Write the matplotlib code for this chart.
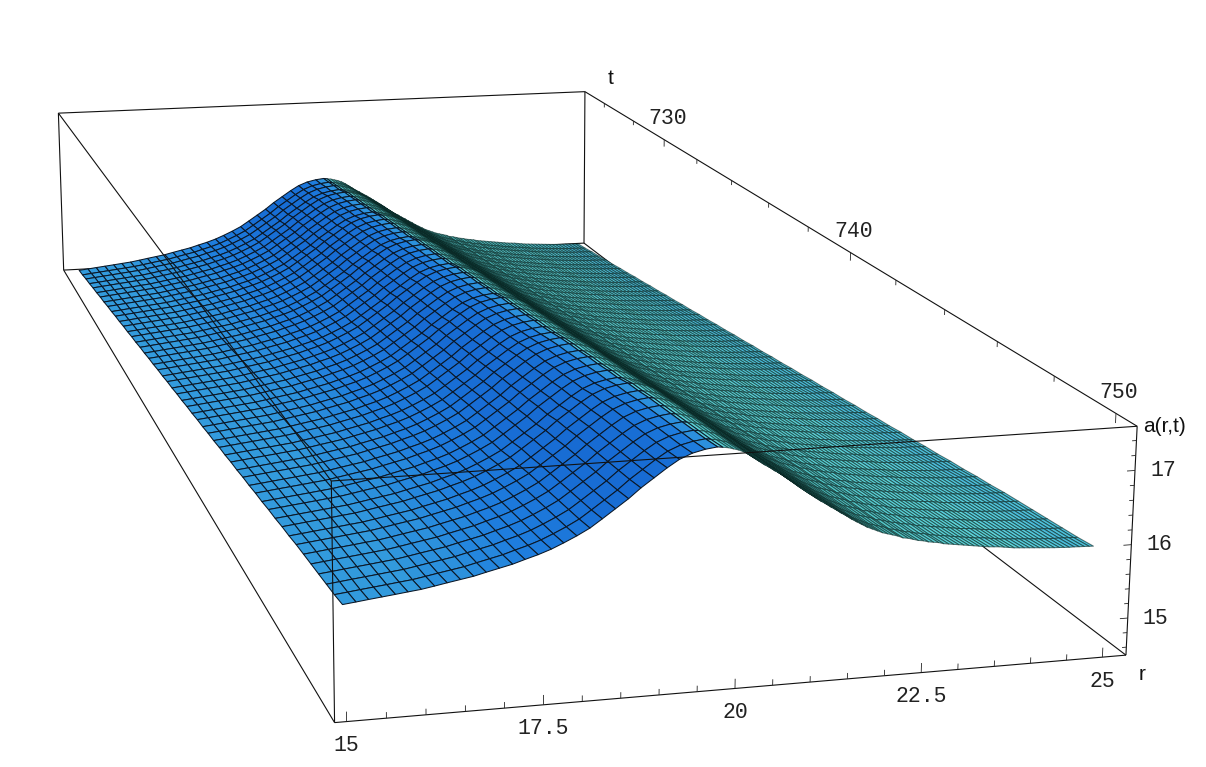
# a(r,t) surface, box view taken from the box corners seen in the picture
import numpy as np
import matplotlib
matplotlib.use('Agg')
import matplotlib.pyplot as plt
from mpl_toolkits.mplot3d.art3d import Line3DCollection

W, H = 1206, 767

# mesh is much finer past the crest
r_values = [15.10, 15.27, 15.43, 15.60, 15.77, 15.93, 16.10, 16.27, 16.43, 16.60,
            16.77, 16.93, 17.10, 17.27, 17.43, 17.60, 17.77, 17.93, 18.10, 18.27,
            18.43, 18.60, 18.77, 18.93, 19.10, 19.27, 19.43, 19.60, 19.77, 19.93,
            20.00, 20.07, 20.14, 20.21, 20.28, 20.35, 20.42, 20.49, 20.56, 20.63,
            20.70, 20.77, 20.84, 20.91, 20.98, 21.05, 21.12, 21.19, 21.26, 21.33,
            21.40, 21.47, 21.54, 21.61, 21.68, 21.75, 21.82, 21.89, 21.96, 22.03,
            22.10, 22.17, 22.24, 22.31, 22.38, 22.45, 22.52, 22.59, 22.66, 22.73,
            22.80, 22.87, 22.94, 23.01, 23.08, 23.15, 23.22, 23.29, 23.36, 23.43,
            23.50, 23.57, 23.64, 23.71, 23.78, 23.85, 23.92, 23.99, 24.06, 24.13,
            24.20, 24.27, 24.34, 24.41, 24.48, 24.55, 24.62, 24.69, 24.76, 24.83,
            24.90, 24.97, 25.04, 25.10]
# height of the ridge above the r=15 edge, read along the front edge
ridge = [0.01, 0.03, 0.05, 0.07, 0.09, 0.11, 0.13, 0.16, 0.19, 0.22,
         0.25, 0.29, 0.33, 0.37, 0.42, 0.47, 0.53, 0.60, 0.68, 0.77,
         0.88, 1.00, 1.12, 1.25, 1.37, 1.49, 1.59, 1.66, 1.70, 1.72,
         1.71, 1.70, 1.68, 1.66, 1.63, 1.59, 1.54, 1.49, 1.44, 1.40,
         1.35, 1.31, 1.26, 1.21, 1.16, 1.11, 1.06, 1.00, 0.95, 0.90,
         0.86, 0.81, 0.77, 0.72, 0.68, 0.63, 0.59, 0.55, 0.51, 0.48,
         0.45, 0.42, 0.40, 0.38, 0.36, 0.33, 0.32, 0.30, 0.28, 0.27,
         0.25, 0.24, 0.23, 0.21, 0.20, 0.19, 0.18, 0.17, 0.16, 0.15,
         0.14, 0.13, 0.12, 0.115, 0.11, 0.10, 0.09, 0.08, 0.075, 0.07,
         0.065, 0.06, 0.055, 0.05, 0.045, 0.04, 0.037, 0.033, 0.03, 0.03,
         0.027, 0.025, 0.022, 0.02]
t_values = [725.0, 725.5, 726.0, 726.5, 727.0, 727.5, 728.0, 728.5, 729.0, 729.5,
            730.0, 730.5, 731.0, 731.5, 732.0, 732.5, 733.0, 733.5, 734.0, 734.5,
            735.0, 735.5, 736.0, 736.5, 737.0, 737.5, 738.0, 738.5, 739.0, 739.5,
            740.0, 740.5, 741.0, 741.5, 742.0, 742.5, 743.0, 743.5, 744.0, 744.5,
            745.0, 745.5, 746.0, 746.5, 747.0, 747.5, 748.0, 748.5, 749.0, 749.5, 750.0]
# level of the r=15 edge along t
base = [14.55, 14.57, 14.60, 14.62, 14.65, 14.67, 14.70, 14.72, 14.75, 14.77,
        14.80, 14.82, 14.85, 14.87, 14.90, 14.92, 14.95, 14.97, 15.00, 15.02,
        15.05, 15.07, 15.10, 15.12, 15.15, 15.17, 15.20, 15.22, 15.25, 15.27,
        15.30, 15.32, 15.35, 15.37, 15.40, 15.42, 15.45, 15.47, 15.50, 15.52,
        15.55, 15.57, 15.60, 15.62, 15.65, 15.67, 15.69, 15.71, 15.73, 15.75, 15.78]
# ridge size along t
gain = [0.93, 0.93, 0.93, 0.93, 0.94, 0.94, 0.94, 0.94, 0.94, 0.94,
        0.95, 0.95, 0.95, 0.95, 0.95, 0.95, 0.96, 0.96, 0.96, 0.96,
        0.96, 0.96, 0.97, 0.97, 0.97, 0.97, 0.97, 0.97, 0.98, 0.98,
        0.98, 0.98, 0.98, 0.98, 0.98, 0.99, 0.99, 0.99, 0.99, 0.99,
        0.99, 0.99, 1.00, 1.00, 1.00, 1.00, 1.00, 1.00, 1.00, 1.00, 1.00]

r_ticks = [15, 17.5, 20, 22.5, 25]
r_labels = ['15', '17.5', '20', '22.5', '25']
t_ticks = [730, 740, 750]
t_labels = ['730', '740', '750']
a_ticks = [15, 16, 17]
a_labels = ['15', '16', '17']

# box limits and where its corners sit in the picture
r0, r1 = 14.85, 25.33
t0, t1 = 724.6, 750.65
a0, a1 = 14.49, 17.59
corners_3d = [(r0, t0, a1), (r1, t0, a1), (r0, t1, a1), (r1, t1, a1),
              (r0, t0, a0), (r1, t0, a0), (r0, t1, a0), (r1, t1, a0)]
corners_px = [(58, 113), (585, 92), (332, 482), (1137, 425),
              (64, 270), (584, 243), (334, 722), (1126, 656)]


def fit_camera(points, pixels):
    rows = []
    for (x, y, z), (u, v) in zip(points, pixels):
        rows.append([x, y, z, 1, 0, 0, 0, 0, -u * x, -u * y, -u * z, -u])
        rows.append([0, 0, 0, 0, x, y, z, 1, -v * x, -v * y, -v * z, -v])
    cam = np.linalg.svd(np.array(rows, dtype=float))[2][-1].reshape(3, 4)
    if cam[2] @ np.array([20, 740, 16, 1]) < 0:
        cam = -cam
    return cam


CAM = fit_camera(corners_3d, corners_px)


def to_px(r, t, a):
    u, v, w = CAM @ np.array([r, t, a, 1.0])
    return u / w, v / w


fig = plt.figure(figsize=(W / 100, H / 100), dpi=100)
ax = fig.add_axes([0, 0, 1, 1], projection='3d', computed_zorder=False)
ax.apply_aspect = lambda position=None: None
ax.set_axis_off()


def picture_proj():
    # same camera, written for the view limits of the 3d axes
    inv = ax.transData.inverted()
    vx0, vy0 = inv.transform((0, H))
    vx1, vy1 = inv.transform((W, 0))
    sx, sy = (vx1 - vx0) / W, (vy1 - vy0) / H
    w_row = CAM[2]
    wmin = min(w_row @ np.array([*c, 1.0]) for c in corners_3d)
    depth = w_row - np.array([0, 0, 0, 0.5 * wmin])
    return np.array([sx * CAM[0] + vx0 * w_row, sy * CAM[1] + vy0 * w_row, depth, w_row])


ax.get_proj = picture_proj

r = np.array(r_values)
t = np.array(t_values)
A = np.array(base)[:, None] + np.array(gain)[:, None] * np.array(ridge)[None, :]
R, T = np.meshgrid(r, t)

# colour follows the slope across r
slope = np.gradient(A, r, axis=1)
slope_stops = [-1.6, -1.0, -0.4, -0.1, 0.05, 0.3, 0.8, 1.6]
red = [45, 55, 75, 95, 58, 30, 22, 20]
green = [120, 150, 190, 215, 165, 125, 105, 95]
blue = [105, 140, 190, 220, 220, 222, 210, 205]
colors = np.dstack([np.interp(slope, slope_stops, c) / 255 for c in (red, green, blue)])

surf = ax.plot_surface(R, T, A, rstride=1, cstride=1, facecolors=colors, shade=False, zorder=2)
surf.set_linewidth(0.75)

# the fine cells past the crest get a softer outline, else they close up to black
coarse_edge = (0.04, 0.09, 0.15, 1.0)
fine_edge = (0.04, 0.16, 0.15, 0.62)
row_edges = [coarse_edge if v < 19.95 else fine_edge for v in r[:-1]]
surf.set_edgecolor(row_edges * (len(t) - 1))

# back edges sit behind the surface
back_edges = [[(r0, t0, a0), (r1, t0, a0)],
              [(r0, t0, a0), (r0, t0, a1)],
              [(r1, t0, a0), (r1, t0, a1)],
              [(r1, t0, a0), (r1, t1, a0)],
              [(r0, t0, a1), (r1, t0, a1)]]
# the rest stays in front
front_edges = [[(r0, t0, a1), (r0, t1, a1)],
               [(r0, t1, a1), (r1, t1, a1)],
               [(r1, t0, a1), (r1, t1, a1)],
               [(r0, t1, a0), (r1, t1, a0)],
               [(r0, t0, a0), (r0, t1, a0)],
               [(r0, t1, a0), (r0, t1, a1)],
               [(r1, t1, a0), (r1, t1, a1)]]
ax.add_collection3d(Line3DCollection(back_edges, colors='#111111', linewidths=0.8, zorder=1))
ax.add_collection3d(Line3DCollection(front_edges, colors='#111111', linewidths=0.8, zorder=3))

# ticks
ticks = []
for v in np.arange(15, 25.01, 0.5):
    ln = 0.13 if v % 2.5 == 0 else 0.08
    ticks.append([(v, t1, a0), (v, t1, a0 + ln)])
for v in np.arange(726, 750.01, 2):
    ln = 0.13 if v % 10 == 0 else 0.08
    ticks.append([(r1, v, a1), (r1, v, a1 - ln)])
for v in np.arange(14.6, 17.51, 0.2):
    ln = 0.11 if abs(v - round(v)) < 1e-6 else 0.06
    ticks.append([(r1, t1, v), (r1 - ln, t1, v)])
ax.add_collection3d(Line3DCollection(ticks, colors='#222222', linewidths=0.6, zorder=3))

tick_font = dict(family='Liberation Mono', fontsize=15.5, ha='center', va='center', color='#222222')
for v, s in zip(r_ticks, r_labels):
    u, w = to_px(v, t1, a0)
    fig.text(u / W, 1 - (w + 24) / H, s, **tick_font)
for v, s in zip(t_ticks, t_labels):
    u, w = to_px(r1, v, a1)
    fig.text((u + 3) / W, 1 - (w - 21) / H, s, **tick_font)
for v, s in zip(a_ticks, a_labels):
    u, w = to_px(r1, t1, v)
    fig.text((u + 28) / W, 1 - w / H, s, **tick_font)

label_font = dict(family='Liberation Sans', fontsize=15, ha='center', va='center', color='#111111')
fig.text(611 / W, 1 - 79 / H, 't', **label_font)
fig.text(1142 / W, 1 - 675 / H, 'r', **label_font)
fig.text(1164 / W, 1 - 427 / H, 'a(r,t)', **label_font)

fig.savefig('out.png', dpi=100)
